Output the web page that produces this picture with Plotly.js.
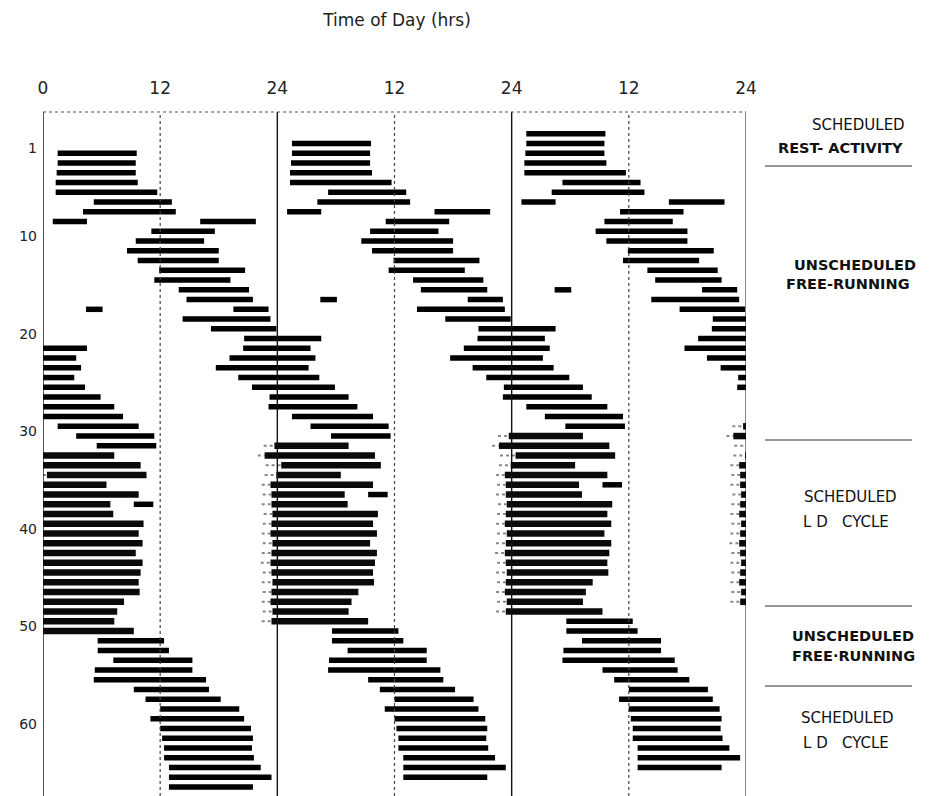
<!DOCTYPE html>
<html><head><meta charset="utf-8">
<script src="https://cdn.plot.ly/plotly-3.0.1.min.js"></script>
<style>html,body{margin:0;padding:0;background:#fff}#chart{width:935px;height:796px}</style>
</head><body><div id="chart"></div>
<script>
// ---- data: sleep episodes (day number, onset hour, offset hour; offset > 24 = after midnight) ----
const sleepDay = [1,2,3,4,5,6,7,8,8,9,10,11,12,13,14,15,16,17,17,18,19,20,21,22,23,24,25,26,27,29,30,31,
  31,32,33,34,35,36,37,37,38,39,40,41,42,43,44,45,46,47,48,49,
  51,52,53,54,55,56,57,58,59,60,61,62,63,64,65,66];
const sleepOnset = [1.5,1.5,1.4,1.3,1.3,5.2,4.1,1.0,16.1,11.1,9.5,8.6,9.7,11.9,11.4,13.9,14.7,4.4,19.5,14.3,17.2,20.6,20.5,19.1,17.7,20.0,21.4,23.2,23.1,1.5,3.4,5.5,
  23.7,22.7,24.4,23.9,23.3,23.4,9.3,23.4,23.5,23.4,23.3,23.5,23.4,23.3,23.4,23.5,23.4,23.3,23.5,23.4,
  5.6,5.6,7.2,5.3,5.2,9.3,10.5,12.0,11.0,12.0,12.2,12.4,12.4,12.9,12.9,12.9];
const sleepOffset = [9.6,9.5,9.5,9.7,11.7,13.2,13.6,4.5,21.8,17.6,16.5,18.0,18.0,20.7,19.2,21.1,21.5,6.1,23.1,23.3,23.9,28.5,27.4,27.9,27.2,28.3,29.9,31.3,32.2,9.8,11.4,11.6,
  31.3,34.0,34.6,30.5,33.8,30.9,11.3,31.2,34.3,33.8,34.2,33.5,34.2,34.0,33.8,33.9,32.3,31.6,31.3,33.3,
  12.4,12.9,15.3,15.3,16.7,17.0,18.2,20.1,20.6,21.3,21.5,21.4,21.6,22.3,23.4,21.5];
// scheduled LD cycle: lights-off hour per day (stippled marks before sleep onset)
const ldDays    = [31,32,33,34,35,36,37,38,39,40,41,42,43,44,45,46,47,48,49];
const lightsOff = [22.6,22.0,22.8,22.7,22.4,22.5,22.4,22.6,22.5,22.4,22.5,22.4,22.3,22.5,22.4,22.5,22.4,22.5,22.4];

const dayTicks = [1,10,20,30,40,50,60];
const hourTicks = [0,12,24,36,48,60,72];
const hourTickLabels = ['0','12','24','12','24','12','24'];
const panelEdges = [0,24,48,72];
const middayLines = [12,36,60];

// ---- triple plot: each row shows that day and the two following days ----
function tripleSegments(days, starts, ends) {
  const xs = [], ys = [];
  for (let i = 0; i < days.length; i++) {
    const d = days[i];
    for (let row = d - 2; row <= d + 2; row++) {
      const shift = 24 * (d - row);
      const a = Math.max(starts[i] + shift, 0);
      const b = Math.min(ends[i] + shift, 72);
      if (b > a) { xs.push(a, b, null); ys.push(row + 0.5, row + 0.5, null); }
    }
  }
  return {xs, ys};
}

const isLD = sleepDay.map((d, i) => ldDays.includes(d) && sleepOnset[i] > 20);
const frIdx = sleepDay.map((d, i) => i).filter(i => !isLD[i]);
const ldIdx = sleepDay.map((d, i) => i).filter(i => isLD[i]);
const fr = tripleSegments(frIdx.map(i => sleepDay[i]), frIdx.map(i => sleepOnset[i]), frIdx.map(i => sleepOffset[i]));
const ld = tripleSegments(ldIdx.map(i => sleepDay[i]), ldIdx.map(i => sleepOnset[i]), ldIdx.map(i => sleepOffset[i]));
const ldOn = ldDays.map(d => { const j = sleepDay.findIndex((v, i) => v === d && isLD[i]); return sleepOnset[j]; });
const st = tripleSegments(ldDays, lightsOff, ldOn);

const traces = [
  {type:'scatter', mode:'lines', x:st.xs, y:st.ys, line:{color:'#888', width:2, dash:'dot'}, hoverinfo:'skip'},
  {type:'scatter', mode:'lines', x:fr.xs, y:fr.ys, line:{color:'#000', width:5.5}, hoverinfo:'skip'},
  {type:'scatter', mode:'lines', x:ld.xs, y:ld.ys, line:{color:'#0a0a0a', width:6.5}, hoverinfo:'skip'}
];

// ---- layout helpers (pixel -> paper) ----
const L = 43, R = 746, T = 112, B = 796;
const px = v => (v - L) / (R - L);
const py = v => 1 - (v - T) / (B - T);

const shapes = [];
panelEdges.forEach(h => shapes.push({type:'line', xref:'x', yref:'paper', x0:h, x1:h, y0:0, y1:1,
  line:{color:'#111', width: h === 72 ? 1 : 1.4}}));
middayLines.forEach(h => shapes.push({type:'line', xref:'x', yref:'paper', x0:h, x1:h, y0:0, y1:1,
  line:{color:'#444', width:1.2, dash:'dot'}}));
shapes.push({type:'line', xref:'x', yref:'paper', x0:0, x1:72, y0:1, y1:1, line:{color:'#555', width:1, dash:'dot'}});
[166, 440, 606, 686].forEach(y => shapes.push({type:'line', xref:'paper', yref:'paper',
  x0:px(765), x1:px(912), y0:py(y), y1:py(y), line:{color:'#333', width:1.2}}));

const phaseText = [
  ['SCHEDULED', 858, 125, false], ['REST- ACTIVITY', 840, 148, true],
  ['UNSCHEDULED', 855, 265, true], ['FREE-RUNNING', 848, 284, true],
  ['SCHEDULED', 850, 497, false], ['L D   CYCLE', 846, 522, false],
  ['UNSCHEDULED', 853, 636, true], ['FREE·RUNNING', 853, 656, true],
  ['SCHEDULED', 847, 718, false], ['L D   CYCLE', 846, 743, false]
];
const annotations = phaseText.map(([t, x, y, b]) => ({text:t, xref:'paper', yref:'paper', x:px(x), y:py(y),
  xanchor:'center', yanchor:'middle', showarrow:false,
  font:{family:'DejaVu Sans, sans-serif', size: b ? 14.5 : 15, color:'#111', weight: b ? 'bold' : 'normal'}}));

const layout = {
  width:935, height:796,
  margin:{l:L, r:935 - R, t:T, b:0},
  paper_bgcolor:'#fff', plot_bgcolor:'#fff', showlegend:false,
  title:{text:'Time of Day (hrs)', x:px(397), xref:'paper', xanchor:'center', y:1 - 20/796, yref:'container', yanchor:'middle',
    font:{family:'DejaVu Sans, sans-serif', size:17, color:'#222'}},
  xaxis:{range:[0,72], side:'top', tickvals:hourTicks, ticktext:hourTickLabels, ticks:'', showgrid:false,
    zeroline:false, showline:false, ticklabelstandoff:14, tickfont:{family:'DejaVu Sans, sans-serif', size:17, color:'#222'}},
  yaxis:{range:[67.42, -2.74], tickvals:dayTicks, ticks:'', showgrid:false, zeroline:false, showline:false,
    ticklabelstandoff:5, tickfont:{family:'DejaVu Sans, sans-serif', size:14, color:'#222'}},
  shapes, annotations
};
Plotly.newPlot('chart', traces, layout, {staticPlot:true, displayModeBar:false});
</script></body></html>
